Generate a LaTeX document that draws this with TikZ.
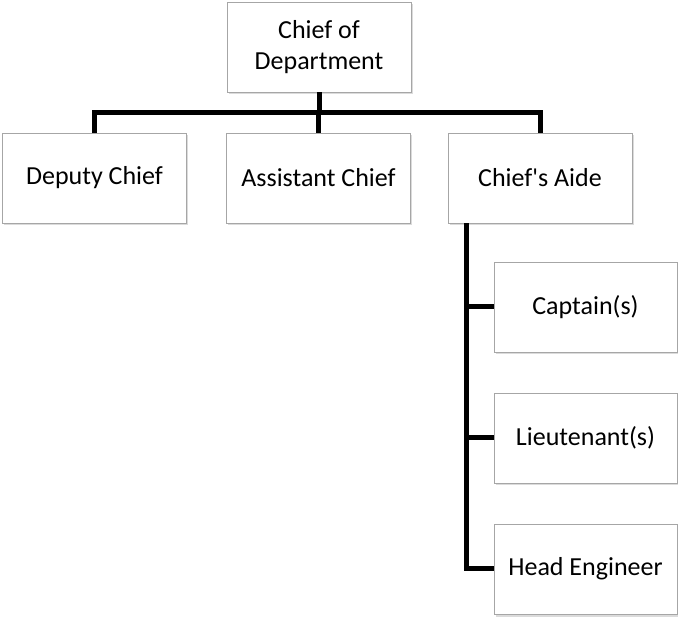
\documentclass[tikz,border=0pt]{standalone}
\usepackage{fontspec}
\setmainfont{Carlito}
\usetikzlibrary{positioning,calc,shadows}
\tikzset{
  obox/.style={draw=gray!70,fill=white,line width=0.8pt,align=center,
    minimum width=184pt,minimum height=90pt,inner sep=2pt,
    drop shadow={shadow xshift=1.5pt,shadow yshift=-2.5pt,fill=gray!80,opacity=0.35}},
  olink/.style={line width=5pt,draw=black,line join=miter}
}
\begin{document}
\begin{tikzpicture}[x=1pt,y=-1pt,font=\fontsize{26}{31}\selectfont]
  \useasboundingbox (0,0) rectangle (678,617);
  \node[obox] (chief) at (319,47) {Chief of\\Department};
  \node[obox] (deputy) at (94.5,178) {Deputy Chief};
  \node[obox] (assist) at (318.5,178) {Assistant Chief};
  \node[obox] (aide) at (540,178) {Chief\textquotesingle s Aide};
  \node[obox,minimum width=183pt] (captain) at (585.5,307) {Captain(s)};
  \node[obox,minimum width=183pt] (lieut) at (585.5,438) {Lieutenant(s)};
  \node[obox,minimum width=183pt] (head) at (585.5,569) {Head Engineer};
  % top level bar
  \coordinate (bar) at (0,113);
  \draw[olink] (chief.south) -- (chief.south |- bar);
  \draw[olink] (deputy.north) -- (deputy.north |- bar) -- (aide.north |- bar) -- (aide.north);
  \draw[olink] (assist.north) -- (assist.north |- bar);
  % aide branch
  \coordinate (spine) at ($(aide.south west)+(19,0)$);
  \draw[olink] (spine) |- (head.west);
  \draw[olink] (spine |- captain.west) -- (captain.west);
  \draw[olink] (spine |- lieut.west) -- (lieut.west);
\end{tikzpicture}
\end{document}
